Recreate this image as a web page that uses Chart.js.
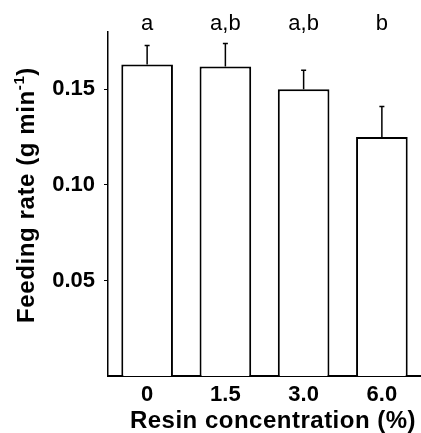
<!DOCTYPE html>
<html>
<head>
<meta charset="utf-8">
<script src="https://cdn.jsdelivr.net/npm/chart.js@4/dist/chart.umd.min.js"></script>
<style>
  html, body { margin: 0; padding: 0; background: #fff; }
  #wrap { width: 421px; height: 433px; }
</style>
</head>
<body>
<div id="wrap"><canvas id="feedChart"></canvas></div>
<script>
// data
const concentrations = ["0", "1.5", "3.0", "6.0"];
const feedingRate = [0.163, 0.162, 0.150, 0.125];
const feedingSE = [0.010, 0.012, 0.010, 0.016];
const groupLetters = ["a", "a,b", "a,b", "b"];
const yTicks = [0.05, 0.10, 0.15];

const FONT = "'Liberation Sans', Arial, Helvetica, sans-serif";

// error bars (upper only) + significance letters + axis titles
const extras = {
  id: "extras",
  afterDatasetsDraw(chart) {
    const ctx = chart.ctx;
    const x = chart.scales.x;
    const y = chart.scales.y;
    ctx.save();
    ctx.strokeStyle = "#000";
    ctx.lineWidth = 1.5;
    feedingRate.forEach((v, i) => {
      const px = x.getPixelForValue(i);
      const top = y.getPixelForValue(v + feedingSE[i]);
      const base = y.getPixelForValue(v);
      ctx.beginPath();
      ctx.moveTo(px, base);
      ctx.lineTo(px, top);
      ctx.moveTo(px - 2.5, top);
      ctx.lineTo(px + 2.5, top);
      ctx.stroke();
    });

    ctx.fillStyle = "#000";
    ctx.font = "22px " + FONT;
    ctx.textAlign = "center";
    ctx.textBaseline = "alphabetic";
    groupLetters.forEach((t, i) => {
      ctx.fillText(t, x.getPixelForValue(i), 30);
    });

    // x axis title
    const bigFont = "bold 24px " + FONT;
    const smallFont = "bold 15px " + FONT;
    ctx.letterSpacing = "0.5px";
    ctx.font = bigFont;
    ctx.textAlign = "center";
    ctx.fillText("Resin concentration (%)", 273, 428);

    // y axis title with superscript
    ctx.letterSpacing = "0.6px";
    const main = "Feeding rate (g min";
    const sup = "-1";
    const tail = ")";
    const wMain = ctx.measureText(main).width;
    const wTail = ctx.measureText(tail).width;
    ctx.font = smallFont;
    const wSup = ctx.measureText(sup).width;
    const total = wMain + wSup + wTail;
    ctx.translate(34, 195);
    ctx.rotate(-Math.PI / 2);
    ctx.textAlign = "left";
    ctx.font = bigFont;
    let pos = -total / 2;
    ctx.fillText(main, pos, 0);
    pos += wMain;
    ctx.font = smallFont;
    ctx.fillText(sup, pos, -10);
    pos += wSup;
    ctx.font = bigFont;
    ctx.fillText(tail, pos, 0);
    ctx.restore();
  }
};

new Chart(document.getElementById("feedChart"), {
  type: "bar",
  data: {
    labels: concentrations,
    datasets: [
      {
        data: feedingRate,
        backgroundColor: "#ffffff",
        borderColor: "#000000",
        borderWidth: 2,
        barPercentage: 0.66,
        categoryPercentage: 1.0,
      },
    ],
  },
  options: {
    responsive: true,
    maintainAspectRatio: false,
    animation: false,
    layout: {
      padding: { top: 32, right: 0, left: 0, bottom: 0 },
    },
    plugins: {
      legend: { display: false },
      tooltip: { enabled: false },
    },
    scales: {
      x: {
        grid: { display: false, drawTicks: false },
        border: { display: true, color: "#000", width: 2 },
        ticks: {
          color: "#000",
          padding: 6,
          font: { family: FONT, size: 22, weight: "bold" },
        },
        afterFit: (s) => { s.height = 57; },
      },
      y: {
        min: 0,
        max: 0.18,
        grid: {
          display: true,
          drawOnChartArea: false,
          drawTicks: true,
          tickLength: 4,
          color: "#000",
        },
        border: { display: true, color: "#000", width: 1.5 },
        afterBuildTicks: (s) => {
          s.ticks = yTicks.map((v) => ({ value: v }));
        },
        ticks: {
          color: "#000",
          padding: 9,
          font: { family: FONT, size: 22, weight: "bold" },
          callback: (v) => v.toFixed(2),
        },
        afterFit: (s) => { s.width = 108; },
      },
    },
  },
  plugins: [extras],
});
</script>
</body>
</html>
